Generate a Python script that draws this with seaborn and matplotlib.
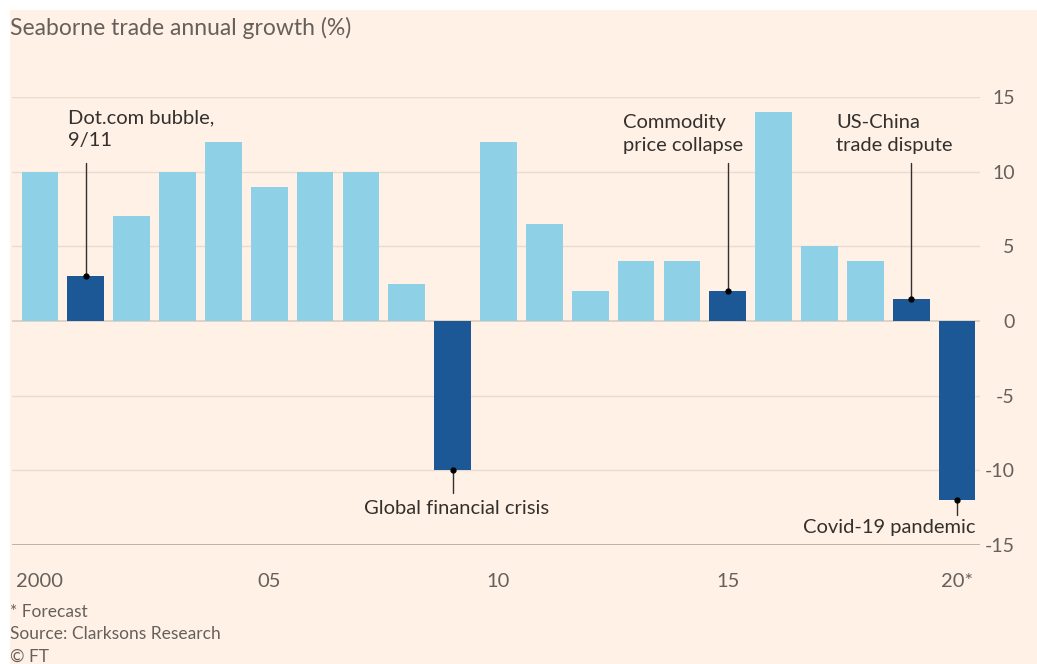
import matplotlib
matplotlib.use("Agg")
import matplotlib.pyplot as plt
import seaborn as sns
import pandas as pd
from matplotlib.patches import Rectangle

years = list(range(2000, 2021))
growth = [10, 3, 7, 10, 12, 9, 10, 10, 2.5, -10, 12, 6.5, 2, 4, 4, 2, 14, 5, 4, 1.5, -12]
events = [2001, 2009, 2015, 2019, 2020]
event_labels = {
    2001: "Dot.com bubble,\n9/11",
    2009: "Global financial crisis",
    2015: "Commodity\nprice collapse",
    2019: "US-China\ntrade dispute",
    2020: "Covid-19 pandemic",
}
xtick_years = [2000, 2005, 2010, 2015, 2020]
xtick_labels = ["2000", "05", "10", "15", "20*"]
yticks = [15, 10, 5, 0, -5, -10, -15]

BG = "#FFF1E5"
LIGHT = "#8ED0E6"
DARK = "#1D5896"
GRID = "#E8DCD0"
TXT = "#33302E"
GREY = "#66605C"

df = pd.DataFrame({"year": years, "growth": growth})
df["kind"] = ["event" if y in events else "normal" for y in years]

sns.set_theme(style="white")
plt.rcParams["font.family"] = ["Lato", "DejaVu Sans"]

fig = plt.figure(figsize=(10.37, 6.64), dpi=100, facecolor="white")
fig.patches.append(Rectangle((10 / 1037, 0), 1, 1 - 10 / 664, transform=fig.transFigure,
                             facecolor=BG, edgecolor="none", zorder=-10))
ax = fig.add_axes([12 / 1037, 1 - 545 / 664, (980 - 12) / 1037, 448 / 664])
ax.set_facecolor("none")

sns.barplot(data=df, x="year", y="growth", hue="kind", palette={"normal": LIGHT, "event": DARK},
            native_scale=True, width=0.8, dodge=False, legend=False, ax=ax, zorder=3,
            linewidth=0, saturation=1)

ax.set_xlim(1999.39, 2020.5)
ax.set_ylim(-15, 15)
for s in ax.spines.values():
    s.set_visible(False)
for v in yticks:
    if v == -15:
        ax.axhline(v, color="#B8ADA3", lw=1.3, zorder=2)
    elif v == 0:
        ax.axhline(v, color="#D9CCC0", lw=1.2, zorder=2)
    else:
        ax.axhline(v, color=GRID, lw=1.0, zorder=1)

ax.set_xticks(years)
ax.set_xticklabels(["" for _ in years])
ax.tick_params(axis="x", length=8, width=1, color="#CEC2B7", pad=4)
for yv, lab in zip(xtick_years, xtick_labels):
    ax.text(yv, -17.45, lab, ha="center", va="center", fontsize=14.5, color=GREY, zorder=5,
            clip_on=False)

ax.yaxis.tick_right()
ax.set_yticks(yticks)
ax.set_yticklabels([str(v) for v in yticks])
ax.tick_params(axis="y", length=0, pad=25, labelsize=14, labelcolor=GREY)
for t in ax.get_yticklabels():
    t.set_horizontalalignment("right")
ax.set_xlabel("")
ax.set_ylabel("")

val = dict(zip(years, growth))
# top annotations
top_text = {2001: (2000.61, 14.15), 2015: (2012.71, 13.85), 2019: (2017.36, 13.85)}
for yr, (tx, ty) in top_text.items():
    ax.text(tx, ty, event_labels[yr], ha="left", va="top", fontsize=14.5, color=TXT,
            linespacing=1.4, zorder=5)
    ax.plot([yr, yr], [10.6, val[yr]], color=TXT, lw=1, zorder=4)
    ax.plot([yr], [val[yr]], marker="o", ms=3.5, color="black", zorder=5)
# bottom annotations
ax.plot([2009, 2009], [val[2009], -11.5], color=TXT, lw=1, zorder=4)
ax.plot([2009], [val[2009]], marker="o", ms=3.5, color="black", zorder=5)
ax.text(2009.09, -12.55, event_labels[2009], ha="center", va="center", fontsize=14.5, color=TXT, zorder=5)
ax.plot([2020, 2020], [val[2020], -13.0], color=TXT, lw=1, zorder=4)
ax.plot([2020], [val[2020]], marker="o", ms=3.5, color="black", zorder=5)
ax.text(2020.4, -13.85, event_labels[2020], ha="right", va="center", fontsize=14.5, color=TXT, zorder=5)

fig.text(10 / 1037, 1 - 28 / 664, "Seaborne trade annual growth (%)", ha="left", va="center",
         fontsize=16.5, color=GREY)
fig.text(10 / 1037, 1 - 612 / 664, "* Forecast", ha="left", va="center", fontsize=12.5, color=GREY)
fig.text(10 / 1037, 1 - 634 / 664, "Source: Clarksons Research", ha="left", va="center", fontsize=12.5, color=GREY)
fig.text(10 / 1037, 1 - 657 / 664, "© FT", ha="left", va="center", fontsize=12.5, color=GREY)

fig.savefig("out.png", dpi=100, facecolor=fig.get_facecolor())
